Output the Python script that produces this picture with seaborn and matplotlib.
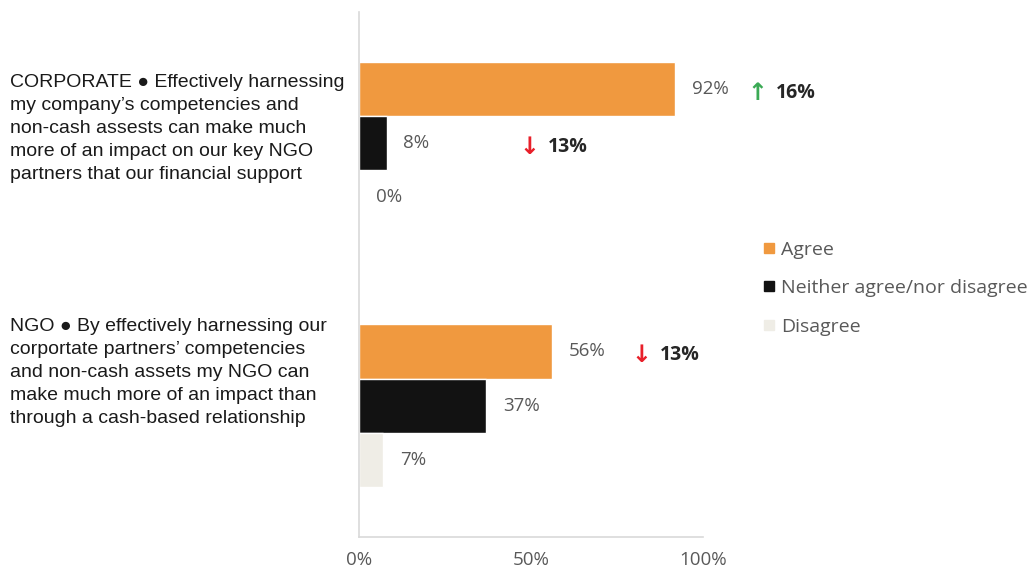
import matplotlib
matplotlib.use("Agg")
import matplotlib.pyplot as plt
import matplotlib.transforms as mtransforms
from matplotlib.lines import Line2D
import pandas as pd
import seaborn as sns

# Survey results (% of respondents)
questions = ["CORPORATE", "NGO"]
responses = ["Agree", "Neither agree/nor disagree", "Disagree"]
agree = [92, 56]
neither = [8, 37]
disagree = [0, 7]

# Year-on-year change callouts: (question, response, change in points)
change_question = ["CORPORATE", "CORPORATE", "NGO"]
change_response = ["Agree", "Neither agree/nor disagree", "Agree"]
change_points = [16, -13, -13]

statements = [
    "CORPORATE \u25CF Effectively harnessing\nmy company\u2019s competencies and\n"
    "non-cash assests can make much\nmore of an impact on our key NGO\n"
    "partners that our financial support",
    "NGO \u25CF By effectively harnessing our\ncorportate partners\u2019 competencies\n"
    "and non-cash assets my NGO can\nmake much more of an impact than\n"
    "through a cash-based relationship",
]

colors = {"Agree": "#F0993F", "Neither agree/nor disagree": "#121212", "Disagree": "#EFEDE6"}

rows = []
for q, a, n, d in zip(questions, agree, neither, disagree):
    rows += [(q, "Agree", a), (q, "Neither agree/nor disagree", n), (q, "Disagree", d)]
df = pd.DataFrame(rows, columns=["question", "response", "value"])

sns.set_theme(style="white")
plt.rcParams["font.family"] = ["Open Sans", "DejaVu Sans"]

fig = plt.figure(figsize=(10.35, 5.69), dpi=100)
ax = fig.add_axes([359 / 1035, 1 - 537 / 569, 344 / 1035, 525 / 569])

sns.barplot(data=df, y="question", x="value", hue="response", order=questions,
            hue_order=responses, palette=colors, orient="h", width=0.62,
            saturation=1, legend=False, ax=ax)

gray = "#595959"
for cont in ax.containers:
    ax.bar_label(cont, labels=[f"{v:.0f}%" for v in cont.datavalues], padding=12,
                 color=gray, fontsize=13.5)

ax.set_xlim(0, 100)
ax.set_ylim(1.5, -0.5)
ax.set_xticks([0, 50, 100])
ax.set_xticklabels(["0%", "50%", "100%"], color=gray, fontsize=13.5)
ax.tick_params(axis="x", length=0, pad=10)
ax.set_yticks([])
ax.set_xlabel("")
ax.set_ylabel("")
for side in ["top", "right"]:
    ax.spines[side].set_visible(False)
for side in ["left", "bottom"]:
    ax.spines[side].set_color("#D9D9D9")
    ax.spines[side].set_linewidth(1.2)

# Question statements to the left of the bars
blend = mtransforms.blended_transform_factory(fig.transFigure, ax.transData)
statement_shift = [-0.057, -0.128]
for i, (s, dy) in enumerate(zip(statements, statement_shift)):
    ax.text(10 / 1035, i + dy, s, transform=blend, ha="left", va="center",
            fontsize=14, family=["Liberation Sans", "DejaVu Sans"], color="#1a1a1a",
            linespacing=1.46, clip_on=False)

# Change callouts next to the bars
bar_offset = {"Agree": -0.2067, "Neither agree/nor disagree": 0.0, "Disagree": 0.2067}
callout_x = [113, 46.5, 79.2]
for q, r, c, x in zip(change_question, change_response, change_points, callout_x):
    y = questions.index(q) + bar_offset[r] + 0.014
    arrow = "\u2191" if c > 0 else "\u2193"
    acol = "#3BAA55" if c > 0 else "#E8202A"
    ax.text(x, y, arrow, color=acol, fontsize=17, fontweight="bold", ha="left",
            va="center", family=["DejaVu Sans"], clip_on=False)
    ax.annotate(f"{abs(c)}%", xy=(x, y), xytext=(20.5, 0), textcoords="offset points",
                color="#262626", fontsize=14, fontweight="bold", ha="left", va="center",
                annotation_clip=False)

handles = [Line2D([], [], marker="s", linestyle="none", markersize=7.5,
                  markerfacecolor=colors[r], markeredgecolor=colors[r]) for r in responses]
fig.legend(handles, responses, loc="upper left", bbox_to_anchor=(753 / 1035, 1 - 231 / 569),
           frameon=False, fontsize=14, labelcolor=gray, handlelength=0.6,
           handletextpad=0.35, labelspacing=1.05, borderpad=0)

fig.savefig("out.png", dpi=100)
